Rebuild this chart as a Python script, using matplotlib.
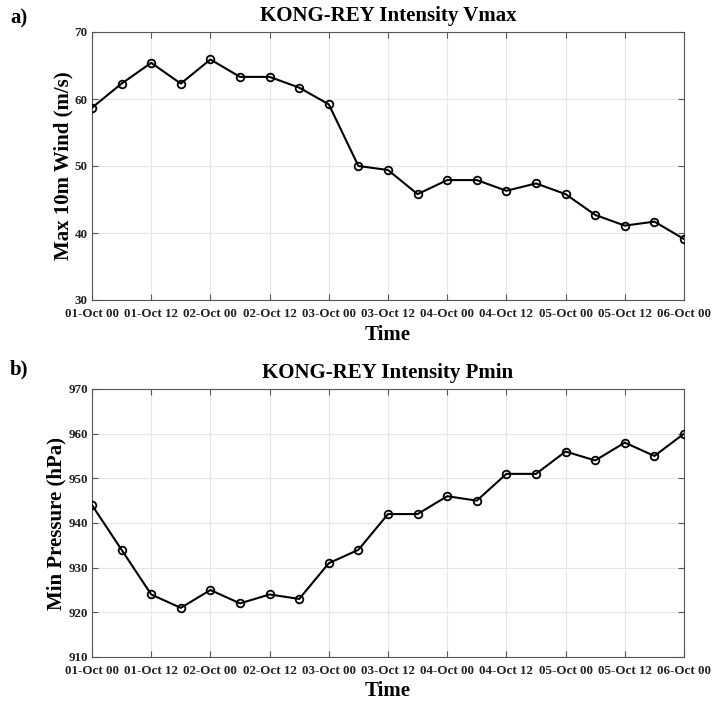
import numpy as np
import matplotlib
matplotlib.use("Agg")
import matplotlib.pyplot as plt

plt.rcParams['font.family'] = ['Liberation Serif', 'DejaVu Serif']
plt.rcParams['font.weight'] = 'bold'

# 6-hourly track points, 01-Oct 00 to 06-Oct 00
hours = np.arange(0, 121, 6)
tick_labels = ["01-Oct 00", "01-Oct 12", "02-Oct 00", "02-Oct 12", "03-Oct 00",
               "03-Oct 12", "04-Oct 00", "04-Oct 12", "05-Oct 00", "05-Oct 12",
               "06-Oct 00"]

vmax = [58.7, 62.3, 65.4, 62.3, 65.9, 63.3, 63.3, 61.7, 59.2, 50.0, 49.4,
        45.8, 47.9, 47.9, 46.3, 47.4, 45.8, 42.7, 41.1, 41.7, 39.1]
pmin = [944, 934, 924, 921, 925, 922, 924, 923, 931, 934, 942,
        942, 946, 945, 951, 951, 956, 954, 958, 955, 960]

W, H = 712, 702
fig = plt.figure(figsize=(W / 100, H / 100), dpi=100)

def axes_px(left, top, right, bottom):
    return fig.add_axes([left / W, 1 - bottom / H, (right - left) / W, (bottom - top) / H])

panels = [
    dict(box=(92, 32, 684, 300), y=vmax, ylim=(30, 70), yticks=np.arange(30, 71, 10),
         title="KONG-REY Intensity Vmax", ylabel="Max 10m Wind (m/s)", tag="a)", tag_y=18),
    dict(box=(92, 389, 684, 657), y=pmin, ylim=(910, 970), yticks=np.arange(910, 971, 10),
         title="KONG-REY Intensity Pmin", ylabel="Min Pressure (hPa)", tag="b)", tag_y=369),
]

for p in panels:
    ax = axes_px(*p["box"])
    ax.plot(hours, p["y"], color="black", lw=1.5, marker="o", ms=5.5,
            mfc="none", mec="black", mew=1.3, zorder=3)
    ax.set_xlim(0, 120)
    ax.set_ylim(*p["ylim"])
    ax.set_xticks(np.arange(0, 121, 12))
    ax.set_xticklabels(tick_labels)
    ax.set_yticks(p["yticks"])
    ax.grid(True, color="#e6e6e6", lw=0.8)
    ax.set_axisbelow(True)
    ax.tick_params(direction="in", length=4, width=0.8, color="#555555",
                   top=True, right=True, labelsize=9.4, labelcolor="#222222")
    ax.tick_params(axis="x", pad=6)
    ax.tick_params(axis="y", pad=3)
    for lab in ax.get_xticklabels() + ax.get_yticklabels():
        lab.set_fontweight("bold")
    for s in ax.spines.values():
        s.set_color("#555555")
        s.set_linewidth(0.8)
    ax.set_title(p["title"], fontsize=15, fontweight="bold", pad=8)
    ax.set_ylabel(p["ylabel"], fontsize=15, fontweight="bold", labelpad=1)
    ax.set_xlabel("Time", fontsize=15, fontweight="bold", labelpad=3)
    fig.text(10 / W, 1 - p["tag_y"] / H, p["tag"], fontsize=15, fontweight="bold",
             ha="left", va="center")

fig.savefig("out.png", dpi=100, facecolor="white")
